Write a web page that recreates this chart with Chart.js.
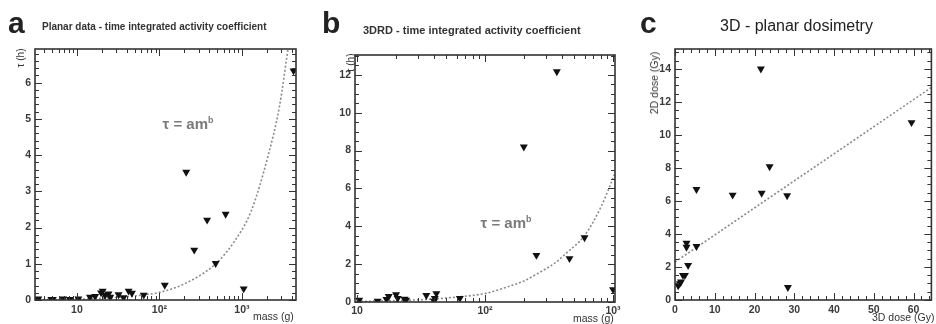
<!DOCTYPE html>
<html>
<head>
<meta charset="utf-8">
<script src="https://cdn.jsdelivr.net/npm/chart.js@4/dist/chart.umd.min.js"></script>
<style>
  body { margin: 0; background: #fff; }
  #wrap { position: relative; width: 936px; height: 324px; overflow: hidden; font-family: 'Liberation Sans', Arial, sans-serif; color: #222; }
  canvas { position: absolute; top: 0; }
  .txt { position: absolute; white-space: nowrap; }
  .letter { font-weight: bold; font-size: 30px; line-height: 1; }
  .ttl { font-weight: bold; font-size: 10px; color: #333; }
  .rot { transform: translate(-50%, -50%) rotate(-90deg); font-size: 10px; color: #333; }
  .xl { font-size: 10.5px; color: #333; }
  .fit { font-weight: bold; font-size: 15px; color: #7a7a7a; transform: translate(-50%, -50%); }
  .fit sup { font-size: 9px; }
</style>
</head>
<body>
<div id="wrap">
  <canvas id="chartA" width="312" height="324" style="left:0px"></canvas>
  <canvas id="chartB" width="312" height="324" style="left:312px"></canvas>
  <canvas id="chartC" width="312" height="324" style="left:624px"></canvas>

  <div class="txt letter" style="left:8px; top:8px;">a</div>
  <div class="txt ttl" style="left:42px; top:21px;">Planar data - time integrated activity coefficient</div>
  <div class="txt rot" style="left:20px; top:58px;">τ (h)</div>
  <div class="txt xl" style="left:253px; top:310px;">mass (g)</div>
  <div class="txt fit" style="left:188px; top:123px;">τ = am<sup>b</sup></div>

  <div class="txt letter" style="left:322px; top:8px;">b</div>
  <div class="txt ttl" style="left:363px; top:24px; font-size:11px;">3DRD - time integrated activity coefficient</div>
  <div class="txt rot" style="left:350px; top:63px;">τ (h)</div>
  <div class="txt xl" style="left:573px; top:312px;">mass (g)</div>
  <div class="txt fit" style="left:506px; top:222px;">τ = am<sup>b</sup></div>

  <div class="txt letter" style="left:640px; top:8px;">c</div>
  <div class="txt" style="left:720px; top:17px; font-size:16px; color:#222;">3D - planar dosimetry</div>
  <div class="txt rot" style="left:654px; top:83px; font-size:10.5px;">2D dose (Gy)</div>
  <div class="txt xl" style="left:872px; top:311px;">3D dose (Gy)</div>
</div>
<script>
// panel a - planar data
const aMass = [3.4, 4.9, 5.1, 6.8, 8.2, 10.4, 14.4, 16.6, 19.6, 20.5, 21.9, 24.1, 25.3, 31.9, 36.7, 42.3, 46.4, 64.5, 116, 211, 264, 378, 480, 634, 1050, 4220];
const aTau = [0.03, 0.02, 0.02, 0.03, 0.02, 0.03, 0.08, 0.1, 0.2, 0.25, 0.13, 0.17, 0.08, 0.15, 0.07, 0.25, 0.19, 0.14, 0.41, 3.53, 1.38, 2.21, 1.01, 2.37, 0.31, 6.33];
const aFitMass = [3.1, 10, 30, 65, 100, 198, 480, 800, 1290, 2055, 2850, 3600];
const aFitTau = [0.01, 0.02, 0.07, 0.14, 0.21, 0.44, 1.0, 1.6, 2.45, 3.95, 5.35, 6.9];

// panel b - 3DRD
const bMass = [10.4, 14.5, 17.0, 17.7, 20.2, 20.8, 23.5, 24.2, 34.8, 40.5, 41.7, 40, 63.6, 201, 252, 364, 457, 599, 1000];
const bTau = [0.1, 0.05, 0.14, 0.3, 0.39, 0.2, 0.15, 0.1, 0.35, 0.2, 0.45, 0.05, 0.2, 8.2, 2.47, 12.17, 2.3, 3.4, 0.66];
const bFitMass = [10, 20, 40, 62, 100, 150, 200, 257, 350, 443, 598, 809, 1036];
const bFitTau = [0.03, 0.07, 0.16, 0.27, 0.45, 0.8, 1.1, 1.5, 2.05, 2.65, 3.5, 5.05, 6.8];

// panel c - 3D vs planar dose
const cDose3D = [0.8, 1.2, 1.5, 2.0, 2.5, 2.9, 2.9, 3.3, 5.4, 5.4, 14.5, 21.6, 21.8, 23.8, 28.2, 28.4, 59.5];
const cDose2D = [0.87, 1.0, 1.1, 1.5, 1.5, 3.45, 3.2, 2.1, 3.25, 6.7, 6.36, 14.0, 6.47, 8.08, 6.32, 0.77, 10.75];
const cFit3D = [0, 64.5];
const cFit2D = [2.3, 12.87];

const logLabels = { 1: '10', 2: '10²', 3: '10³' };
const tickFont = { family: "'Liberation Sans', Arial, sans-serif", size: 10.5, weight: 'bold' };
const tickColor = '#3a3a3a';

function pts(xs, ys) {
    return xs.map((v, i) => ({ x: v, y: ys[i] }));
}

function range(from, to, step) {
    const out = [];
    for (let v = from; v <= to + 1e-9; v += step) out.push(+v.toFixed(6));
    return out;
}

function logMinor(min, max) {
    const out = [];
    for (let d = 1; d <= 10000; d *= 10) {
        for (let k = 2; k <= 9; k++) {
            const v = k * d / 10;
            if (v > min && v < max) out.push(v);
        }
    }
    return out;
}

// ROOT style frame with inward ticks on all four sides
const frameTicks = {
    id: 'frameTicks',
    afterDatasetsDraw(chart, args, opts) {
        const { ctx, chartArea: ca, scales } = chart;
        const x = scales.x, y = scales.y;
        ctx.save();
        ctx.strokeStyle = '#333';
        ctx.lineWidth = 1;
        ctx.beginPath();
        const tx = (v, len) => {
            const p = Math.round(x.getPixelForValue(v)) + 0.5;
            ctx.moveTo(p, ca.bottom); ctx.lineTo(p, ca.bottom - len);
            ctx.moveTo(p, ca.top); ctx.lineTo(p, ca.top + len);
        };
        const ty = (v, len) => {
            const p = Math.round(y.getPixelForValue(v)) + 0.5;
            ctx.moveTo(ca.left, p); ctx.lineTo(ca.left + len, p);
            ctx.moveTo(ca.right, p); ctx.lineTo(ca.right - len, p);
        };
        opts.xMajor.forEach(v => tx(v, 7));
        opts.xMinor.forEach(v => tx(v, 4));
        opts.yMajor.forEach(v => ty(v, 7));
        opts.yMinor.forEach(v => ty(v, 4));
        ctx.stroke();
        ctx.lineWidth = 1.6;
        ctx.strokeRect(ca.left, ca.top, ca.right - ca.left, ca.bottom - ca.top);
        ctx.restore();
    }
};

function makeChart(id, cfg) {
    const logX = cfg.xType === 'logarithmic';
    new Chart(document.getElementById(id), {
        type: 'scatter',
        data: {
            datasets: [{
                data: pts(cfg.px, cfg.py),
                pointStyle: 'triangle',
                rotation: 180,
                radius: 4.6,
                backgroundColor: '#111',
                borderColor: '#111',
                borderWidth: 0
            }, {
                type: 'line',
                data: pts(cfg.fx, cfg.fy),
                borderColor: '#8a8a8a',
                borderWidth: 1.6,
                borderDash: [2, 2],
                pointRadius: 0,
                cubicInterpolationMode: 'monotone',
                fill: false
            }]
        },
        options: {
            responsive: false,
            animation: false,
            devicePixelRatio: 1,
            layout: { padding: cfg.padding },
            plugins: {
                legend: { display: false },
                tooltip: { enabled: false },
                frameTicks: cfg.ticks
            },
            scales: {
                x: {
                    type: cfg.xType,
                    min: cfg.xMin,
                    max: cfg.xMax,
                    grid: { display: false, drawTicks: false },
                    border: { display: false },
                    afterFit: s => { s.height = cfg.xH; },
                    afterBuildTicks: s => {
                        if (logX) s.ticks = [10, 100, 1000].filter(v => v >= s.min && v <= s.max).map(v => ({ value: v }));
                        else s.ticks = range(0, cfg.xMax, 10).map(v => ({ value: v }));
                    },
                    ticks: {
                        maxRotation: 0,
                        autoSkip: false,
                        padding: cfg.xPad,
                        font: tickFont,
                        color: tickColor,
                        callback: v => logX ? logLabels[Math.round(Math.log10(v))] : String(v)
                    }
                },
                y: {
                    type: 'linear',
                    min: 0,
                    max: cfg.yMax,
                    grid: { display: false, drawTicks: false },
                    border: { display: false },
                    afterFit: s => { s.width = cfg.yW; },
                    ticks: {
                        stepSize: cfg.yStep,
                        includeBounds: false,
                        padding: 4,
                        font: tickFont,
                        color: tickColor
                    }
                }
            }
        },
        plugins: [frameTicks]
    });
}

makeChart('chartA', {
    px: aMass, py: aTau, fx: aFitMass, fy: aFitTau,
    xType: 'logarithmic', xMin: 3.1, xMax: 4520, yMax: 6.93, yStep: 1,
    padding: { left: 0, top: 49, right: 16, bottom: 0 }, yW: 35, xH: 24, xPad: 4,
    ticks: { xMajor: [10, 100, 1000], xMinor: logMinor(3.1, 4520), yMajor: range(0, 6, 1), yMinor: range(0, 6.8, 0.2) }
});

makeChart('chartB', {
    px: bMass, py: bTau, fx: bFitMass, fy: bFitTau,
    xType: 'logarithmic', xMin: 9.65, xMax: 1036, yMax: 13.05, yStep: 2,
    padding: { left: 0, top: 55, right: 9, bottom: 0 }, yW: 43, xH: 22, xPad: 3,
    ticks: { xMajor: [10, 100, 1000], xMinor: logMinor(9.65, 1036), yMajor: range(0, 12, 2), yMinor: range(0, 13, 0.5) }
});

makeChart('chartC', {
    px: cDose3D, py: cDose2D, fx: cFit3D, fy: cFit2D,
    xType: 'linear', xMin: 0, xMax: 64.5, yMax: 15.2, yStep: 2,
    padding: { left: 0, top: 49, right: 2, bottom: 0 }, yW: 51, xH: 24, xPad: 4,
    ticks: { xMajor: range(0, 60, 10), xMinor: range(0, 64, 2), yMajor: range(0, 14, 2), yMinor: range(0, 15, 0.5) }
});
</script>
</body>
</html>
